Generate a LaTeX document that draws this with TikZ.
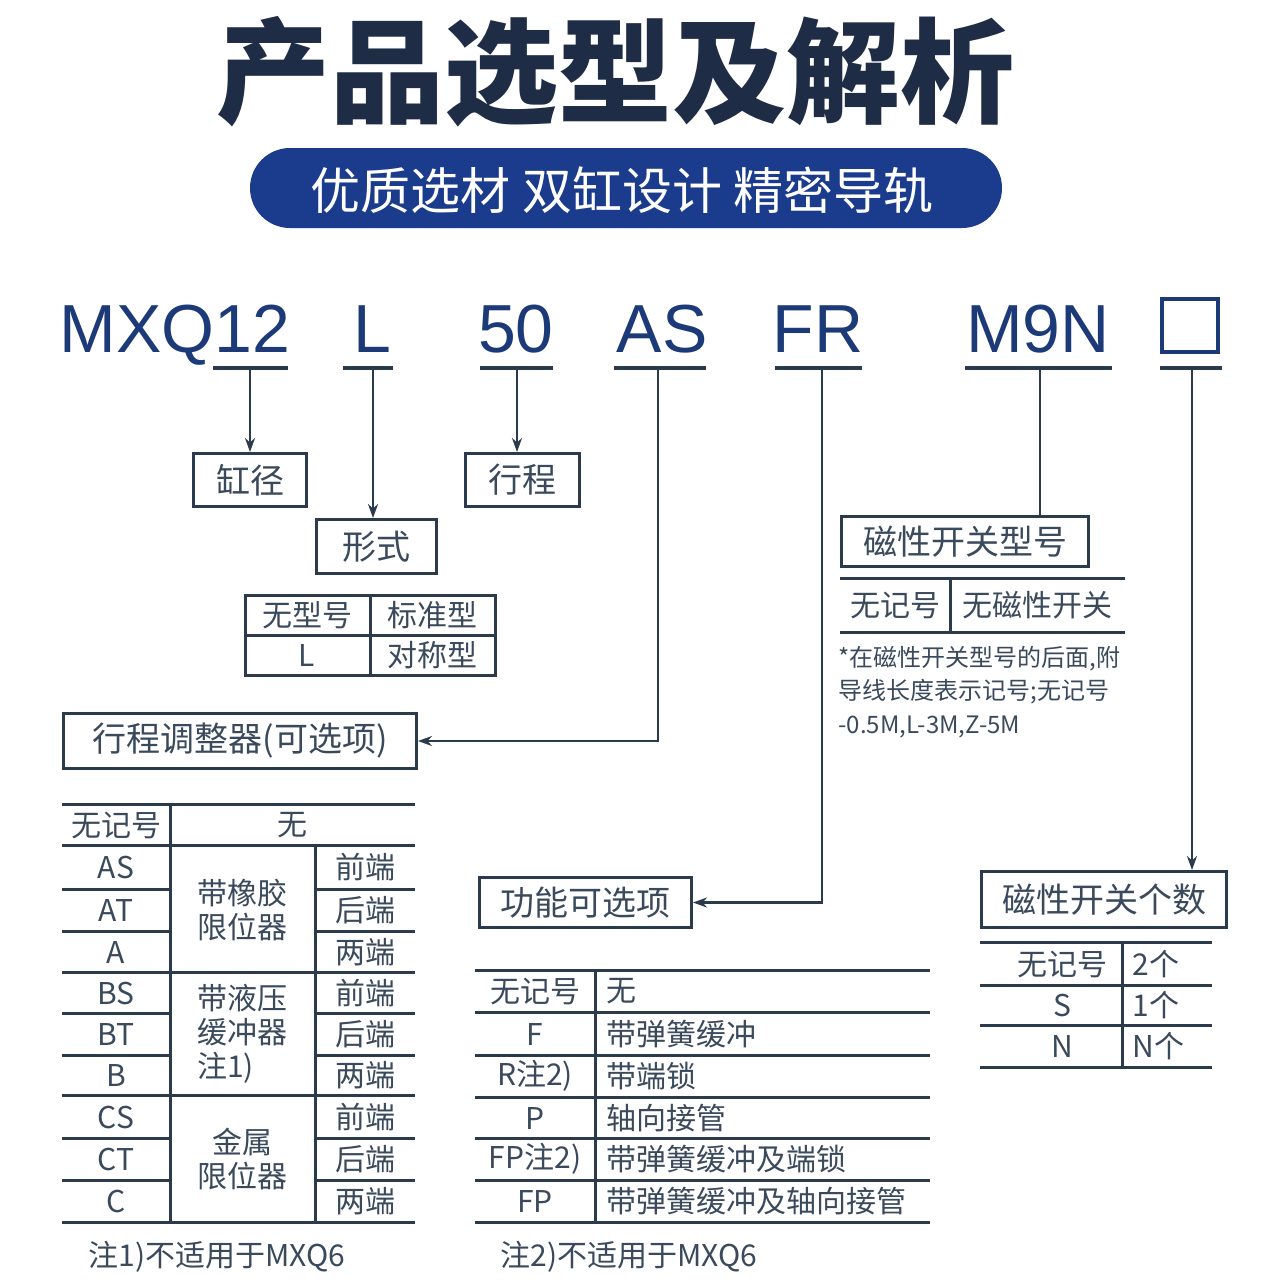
\documentclass[tikz,border=0pt]{standalone}
\usepackage{fontspec}
\setmainfont{Noto Sans CJK SC}
\newfontfamily\codefont{Liberation Sans}
\usetikzlibrary{arrows.meta}
\definecolor{navy}{HTML}{1F2C45}
\definecolor{banner}{HTML}{1B3C8C}
\definecolor{codeblue}{HTML}{1D3A78}
\definecolor{tline}{HTML}{2C3B4C}
\definecolor{ttext}{HTML}{3A4A5C}
\tikzset{
  box/.style={draw=tline,line width=1.5pt,inner sep=0pt,anchor=north west,font=\fontsize{17}{19}\selectfont,text=ttext},
  rule/.style={draw=tline,line width=1.5pt},
  lead/.style={draw=tline,line width=1.2pt,-{Stealth[length=7pt,width=5pt]}},
  cell/.style={font=\fontsize{15}{17}\selectfont,text=ttext,inner sep=0pt},
  code/.style={font=\codefont\fontsize{34}{36}\selectfont,text=codeblue,anchor=base,inner sep=0pt},
  note/.style={font=\fontsize{12}{15}\selectfont,text=ttext,anchor=base west,inner sep=0pt}
}
\begin{document}
\begin{tikzpicture}[x=0.5pt,y=-0.5pt]
\useasboundingbox (0,0) rectangle (1284,1284);
\fill[white] (0,0) rectangle (1284,1284);
% title and banner
\node[font=\bfseries\fontsize{57}{60}\selectfont,text=navy] (title) at (615,72) {产品选型及解析};
\fill[banner,rounded corners=20pt] (250,148) rectangle (1002,228);
\node[font=\fontsize{25}{27}\selectfont,text=white] (slogan) at (622,190) {优质选材 双缸设计 精密导轨};
% model code
\node[code] (mxq) at (175,352) {MXQ12};
\node[code] (l) at (372,352) {L};
\node[code] (st) at (516,352) {50};
\node[code] (as) at (662,352) {AS};
\node[code] (fr) at (818,352) {FR};
\node[code] (m9n) at (1038,352) {M9N};
\draw[codeblue,line width=2pt] (1162,299) rectangle (1218,352);
\foreach \a/\b in {213/288,343/393,480/553,614/706,775/862,965/1112,1160/1222}
  \draw[rule,line width=2.2pt] (\a,368) -- (\b,368);
\coordinate (u1) at (250,368); \coordinate (u2) at (373,368); \coordinate (u3) at (517,368);
\coordinate (u4) at (658,368); \coordinate (u5) at (822,368); \coordinate (u6) at (1040,368);
\coordinate (u7) at (1192,368);
% boxes
\node[box,minimum width=56.5pt,minimum height=26.5pt] (bore) at (192,452) {缸径};
\node[box,minimum width=60pt,minimum height=27pt] (form) at (315,518) {形式};
\node[box,minimum width=57pt,minimum height=26.5pt] (stroke) at (464,452) {行程};
\node[box,minimum width=176.5pt,minimum height=27.5pt] (adj) at (62,712) {行程调整器(可选项)};
\node[box,minimum width=106pt,minimum height=25pt] (func) at (478,876) {功能可选项};
\node[box,minimum width=123.5pt,minimum height=25pt] (sw) at (840,515) {磁性开关型号};
\node[box,minimum width=122.5pt,minimum height=28pt] (num) at (980,870) {磁性开关个数};
% leaders
\draw[lead] (u1) -- (bore.north);
\draw[lead] (u2) -- (u2|-form.north);
\draw[lead] (u3) -- (u3|-stroke.north);
\draw[lead] (u4) |- (adj.east);
\draw[lead] (u5) |- (func.east);
\draw[rule,line width=1.2pt] (u6) -- (u6|-sw.north);
\draw[lead] (u7) -- (u7|-num.north);
% form table
\draw[rule] (245,595) rectangle (495,675);
\draw[rule] (245,635) -- (495,635);
\draw[rule] (370,595) -- (370,675);
\node[cell] at (307,615) {无型号}; \node[cell] at (432,615) {标准型};
\node[cell] at (307,655) {L}; \node[cell] at (432,655) {对称型};
% switch type table
\draw[rule] (840,578) -- (1125,578);
\draw[rule] (840,632) -- (1125,632);
\draw[rule] (950,578) -- (950,632);
\node[cell] at (895,605) {无记号}; \node[cell] at (1037,605) {无磁性开关};
\node[note] at (838,666) {*在磁性开关型号的后面,附};
\node[note] at (838,699) {导线长度表示记号;无记号};
\node[note] at (838,733) {-0.5M,L-3M,Z-5M};
% stroke adjuster table
\foreach \y in {804,845,972,1095,1222} \draw[rule] (62,\y) -- (415,\y);
\foreach \y in {889,931,1013,1055,1138,1180} {
  \draw[rule] (62,\y) -- (170,\y);
  \draw[rule] (315,\y) -- (415,\y);}
\draw[rule] (170,804) -- (170,1222);
\draw[rule] (315,845) -- (315,1222);
\node[cell] at (116,825) {无记号}; \node[cell] at (292,825) {无};
\foreach \c/\y/\e in {AS/867/前端,AT/910/后端,A/952/两端,BS/993/前端,BT/1034/后端,B/1075/两端,CS/1117/前端,CT/1159/后端,C/1201/两端} {
  \node[cell] at (116,\y) {\c};
  \node[cell] at (365,\y) {\e};}
\node[cell,align=center] at (242,910) {带橡胶\\限位器};
\node[cell,align=left] at (242,1034) {带液压\\缓冲器\\注1)};
\node[cell,align=center] at (242,1159) {金属\\限位器};
\node[cell,anchor=base west] at (88,1266) {注1)不适用于MXQ6};
% function table
\foreach \y in {970,1012,1055,1097,1138,1180,1222} \draw[rule] (475,\y) -- (930,\y);
\draw[rule] (595,970) -- (595,1222);
\foreach \c/\y/\e in {无记号/991/无,F/1034/带弹簧缓冲,R注2)/1076/带端锁,P/1118/轴向接管,FP注2)/1159/带弹簧缓冲及端锁,FP/1201/带弹簧缓冲及轴向接管} {
  \node[cell] at (535,\y) {\c};
  \node[cell,anchor=west] at (606,\y) {\e};}
\node[cell,anchor=base west] at (500,1266) {注2)不适用于MXQ6};
% switch count table
\foreach \y in {942,985,1025,1067} \draw[rule] (980,\y) -- (1212,\y);
\draw[rule] (1122,942) -- (1122,1067);
\foreach \c/\y/\e in {无记号/964/2个,S/1005/1个,N/1046/N个} {
  \node[cell] at (1062,\y) {\c};
  \node[cell,anchor=west] at (1132,\y) {\e};}
\end{tikzpicture}
\end{document}
